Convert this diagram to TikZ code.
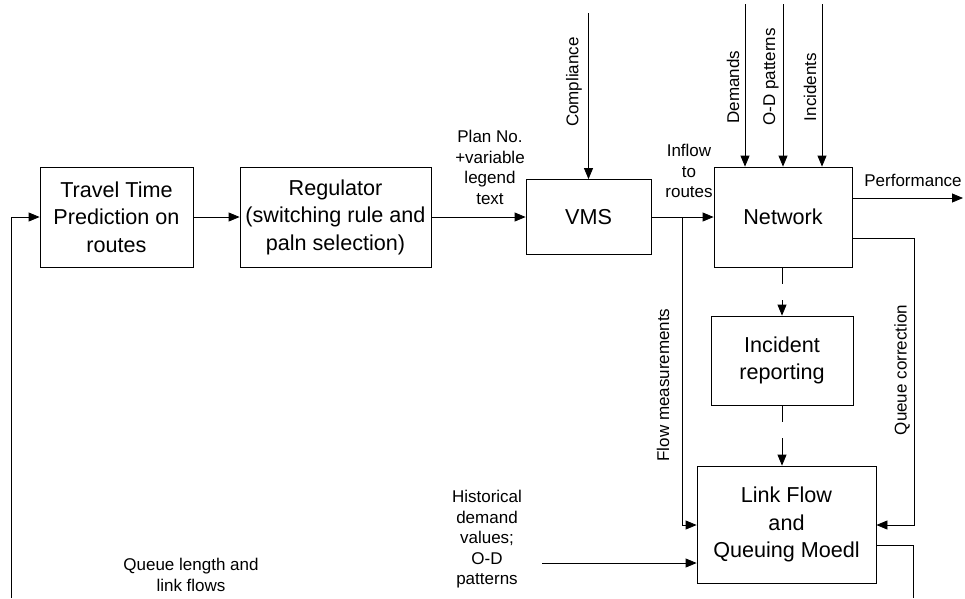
\documentclass[tikz,border=0pt]{standalone}
\usepackage{fontspec}
\setmainfont{Liberation Sans}
\usetikzlibrary{arrows.meta,calc}
\begin{document}
\begin{tikzpicture}[x=1pt,y=-1pt,
  line width=0.8pt,
  box/.style={draw, line width=0.8pt, align=center, inner sep=0pt,
    font=\fontsize{21.6}{27.5}\selectfont},
  lbl/.style={align=center, inner sep=0pt, font=\fontsize{17}{20.5}\selectfont},
  arr/.style={-{Triangle[length=11pt,width=9pt]}},
  brokenline/.style={dash pattern=on 17pt off 16pt on 200pt}
]
\useasboundingbox (0,0) rectangle (965,598);

% boxes
\node[box, minimum width=153pt, minimum height=100pt] (tt) at (116.5,217) {Travel Time\\Prediction on\\routes};
\node[box, minimum width=191pt, minimum height=100pt] (reg) at (335.5,217) {Regulator\\(switching rule and\\paln selection)};
\node[box, minimum width=125pt, minimum height=75pt] (vms) at (588.5,217) {VMS};
\node[box, minimum width=138pt, minimum height=100pt] (net) at (783,217) {Network};
\node[box, minimum width=142pt, minimum height=89pt] (inc) at (782,360.5) {Incident\\reporting};
\node[box, minimum width=179pt, minimum height=117pt] (lf) at (786.5,524.5) {Link Flow\\and\\Queuing Moedl};

% labels
\node[lbl] (lplan) at (490,167.5) {Plan No.\\+variable\\legend\\text};
\node[lbl] (linflow) at (689,171) {Inflow\\to\\routes};
\node[lbl] (lperf) at (913,180) {Performance};
\node[lbl, rotate=90] (lcomp) at (574,82) {Compliance};
\node[lbl, rotate=90] (ldem) at (733,87) {Demands};
\node[lbl, rotate=90] (lod) at (771,77) {O-D patterns};
\node[lbl, rotate=90] (linc) at (810,87) {Incidents};
\node[lbl, rotate=90] (lfm) at (663,385) {Flow measurements};
\node[lbl, rotate=90] (lqc) at (902,370) {Queue correction};
\node[lbl] (lhist) at (487,539.5) {Historical\\demand\\values;\\O-D\\patterns};
\node[lbl] (lql) at (191,575) {Queue length and\\link flows};

% coordinates
\coordinate (fbL) at (11,598);
\coordinate (cmp) at (588.5,13);
\coordinate (dem) at (745,4);
\coordinate (od) at (783,4);
\coordinate (incin) at (822,4);
\coordinate (perf) at (963,198);
\coordinate (qcA) at (914,238);
\coordinate (qcB) at (914,525);
\coordinate (fmA) at (682,217);
\coordinate (fmB) at (682,525);
\coordinate (hist) at (542,563);
\coordinate (loA) at (913,545);
\coordinate (loB) at (913,598);

% connectors
\draw[arr] (fbL) |- (tt.west);
\draw[arr] (tt.east) -- (reg.west);
\draw[arr] (reg.east) -- (vms.west);
\draw[arr] (vms.east) -- (vms.east -| net.west);
\draw[arr] (cmp) -- (cmp |- vms.north);
\draw[arr] (dem) -- (dem |- net.north);
\draw[arr] (od) -- (od |- net.north);
\draw[arr] (incin) -- (incin |- net.north);
\draw[arr] (perf -| net.east) -- (perf);
\draw[arr] (qcA -| net.east) -- (qcA) -- (qcB) -- (qcB -| lf.east);
\draw[arr] (fmA) -- (fmB) -- (fmB -| lf.west);
\draw[arr, brokenline] (inc.north |- net.south) -- (inc.north);
\draw[arr, brokenline] (inc.south) -- (inc.south |- lf.north);
\draw[arr] (hist) -- (hist -| lf.west);
\draw (loA -| lf.east) -- (loA) -- (loB);
\end{tikzpicture}
\end{document}
